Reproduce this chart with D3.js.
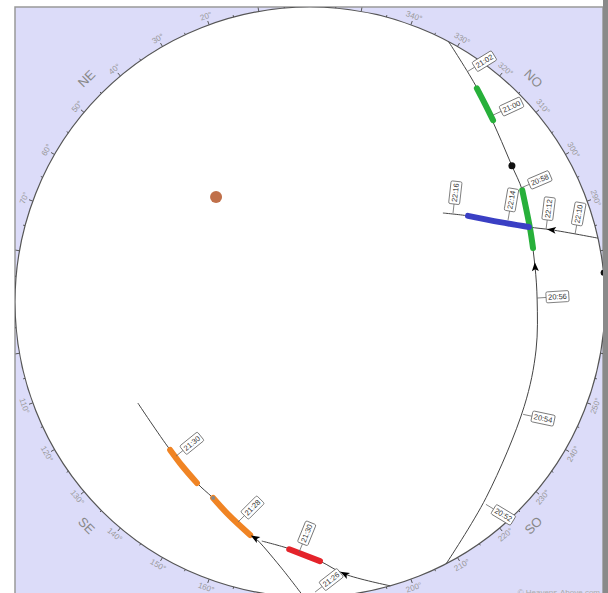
<html>
<head>
    <script src="https://d3js.org/d3.v7.min.js"></script>
    <style>
        body { margin: 0; background: white; }
        text { font-family: "Liberation Sans", Arial, sans-serif; }
    </style>
</head>

<body>
    <svg id="sky"></svg>

    <script>
        var W = 608, H = 593;
        var CX = 310, CY = 302, R = 295;

        // passes, [azimuth, altitude] in degrees, in time order
        var trackGreen = [[207.5,0],[222,9.7],[244,17.3],[258,19.5],[270.5,20.7],[279,20.5],[288.6,19.2],[297.8,16.8],[304,15.7],[312,12.9],[322,7.2],[332,0]];
        var litGreen = [[[283.6,20.0],[288.6,19.2],[297.8,16.8]], [[314.8,11.3],[318.5,9.4],[322,7.3]]];
        var timesGreen = [["20:52",221,8.2],["20:54",242.2,16.5],["20:56",271,20.7],["20:58",298.4,16.8],["21:00",315.6,10.2],["21:02",325.7,5]];

        var trackBlue = [[282.5,0],[286.6,13],[288.9,19.4],[292.8,27.1],[298.6,35.1],[303.8,41.2]];
        var litBlue = [[[288.9,19.4],[292.8,27.1],[298.6,35.1]]];
        var timesBlue = [["22:10",284.4,6.5],["22:12",287.2,14.6],["22:14",292.5,24.6],["22:16",301.9,38.6]];

        var trackOrange = [[178.8,0],[173.5,8.9],[166.9,16.1],[165.6,16.6],[153.7,23.3],[148,24.9],[136.6,27.9],[120.4,29.1]];
        var litOrange = [[[165.6,16.6],[159,20.5],[153.7,23.3]], [[148,24.9],[142,26.6],[136.6,27.9]]];
        var timesOrange = [["21:26",181,1.5],["21:28",161.9,19.4],["21:30",139,27.7]];

        var trackRed = [[195.8,0],[187.3,6.3],[182.2,10.9],[175.4,14.4],[168.6,15.6]];
        var litRed = [[[182.2,10.9],[175.2,14.3]]];
        var timesRed = [["21:30",177.5,13.6]];

        var arrows = [[trackGreen,[278.8,20.5]],[trackBlue,[286.6,13]],[trackOrange,[166.9,16.1]],[trackRed,[187.3,6.3]]];
        var moon = [41.8,47];
        var dots = [[304,15.7,3.5,"#111"],[275.7,0,3,"#111"],[153.7,23.3,2,"#888"]];

        var compass = [["NE",45],["SE",135],["SO",225],["NO",315]];
        var azLabels = d3.range(0, 360, 10);

        var rScale = d3.scaleLinear().domain([90, 0]).range([0, R]);

        function proj(az, alt)
        {
            var r = rScale(alt), a = az*Math.PI/180;
            return [CX - r*Math.sin(a), CY - r*Math.cos(a)];
        }
        function projR(az, r)
        {
            var a = az*Math.PI/180;
            return [CX - r*Math.sin(a), CY - r*Math.cos(a)];
        }

        var svg = d3.select("#sky").attr("width", W).attr("height", H);

        svg.append("clipPath").attr("id", "frame")
            .append("rect").attr("x", 15).attr("y", 7).attr("width", 588).attr("height", 600);

        svg.append("rect").attr("x", 15).attr("y", 7).attr("width", 588).attr("height", 600)
            .attr("fill", "#dcdcf9").attr("stroke", "#999").attr("stroke-width", 1.5);
        svg.append("rect").attr("x", 603).attr("y", 0).attr("width", 5).attr("height", H)
            .attr("fill", "#8a8a8a");

        var g = svg.append("g").attr("clip-path", "url(#frame)");

        g.append("circle").attr("cx", CX).attr("cy", CY).attr("r", R)
            .attr("fill", "white").attr("stroke", "#555").attr("stroke-width", 1.2);

        // azimuth ticks
        g.selectAll(".tick").data(d3.range(0, 360, 5)).enter()
            .append("line")
            .attr("x1", function(d){ return projR(d, R)[0]; })
            .attr("y1", function(d){ return projR(d, R)[1]; })
            .attr("x2", function(d){ return projR(d, R + (d % 10 ? 2 : 4))[0]; })
            .attr("y2", function(d){ return projR(d, R + (d % 10 ? 2 : 4))[1]; })
            .attr("stroke", "#555").attr("stroke-width", 1);

        function tangentRot(az)
        {
            return (az > 90 && az < 270) ? 180 - az : -az;
        }

        g.selectAll(".azl").data(azLabels).enter()
            .append("text")
            .attr("transform", function(d){ var p = projR(d, R + 9); return "translate(" + p[0] + "," + p[1] + ") rotate(" + tangentRot(d) + ")"; })
            .attr("text-anchor", "middle").attr("dominant-baseline", "central")
            .attr("font-size", 8).attr("fill", "#999")
            .text(function(d){ return d + "\u00b0"; });

        g.selectAll(".cmp").data(compass).enter()
            .append("text")
            .attr("transform", function(d){ var p = projR(d[1], R + 21); return "translate(" + p[0] + "," + p[1] + ") rotate(" + tangentRot(d[1]) + ")"; })
            .attr("text-anchor", "middle").attr("dominant-baseline", "central")
            .attr("font-size", 13).attr("fill", "#888")
            .text(function(d){ return d[0]; });

        var line = d3.line().curve(d3.curveCatmullRom.alpha(0.5))
            .x(function(d){ return proj(d[0], d[1])[0]; })
            .y(function(d){ return proj(d[0], d[1])[1]; });

        var passes = [
            {track: trackGreen, lit: litGreen, times: timesGreen, color: "#27b03a"},
            {track: trackBlue, lit: litBlue, times: timesBlue, color: "#3a3fc4"},
            {track: trackOrange, lit: litOrange, times: timesOrange, color: "#f08424"},
            {track: trackRed, lit: litRed, times: timesRed, color: "#e4232a"}
        ];

        // direction of travel near a point
        function direction(track, p)
        {
            var pts = track.map(function(d){ return proj(d[0], d[1]); });
            var best = 0, bd = Infinity;
            for (var i = 0; i < pts.length - 1; i++)
            {
                var mx = (pts[i][0] + pts[i+1][0])/2, my = (pts[i][1] + pts[i+1][1])/2;
                var dd = (mx - p[0])*(mx - p[0]) + (my - p[1])*(my - p[1]);
                if (dd < bd) { bd = dd; best = i; }
            }
            var tx = pts[best+1][0] - pts[best][0], ty = pts[best+1][1] - pts[best][1];
            var l = Math.sqrt(tx*tx + ty*ty);
            return [tx/l, ty/l];
        }

        passes.forEach(function(ps)
        {
            g.append("path").attr("d", line(ps.track))
                .attr("fill", "none").attr("stroke", "#444").attr("stroke-width", 1);
        });

        passes.forEach(function(ps)
        {
            ps.lit.forEach(function(seg)
            {
                g.append("path").attr("d", line(seg))
                    .attr("fill", "none").attr("stroke", ps.color)
                    .attr("stroke-width", 6).attr("stroke-linecap", "round");
            });
        });

        // time labels
        passes.forEach(function(ps)
        {
            ps.times.forEach(function(t)
            {
                var p = proj(t[1], t[2]);
                var dir = direction(ps.track, p);
                var n = [-dir[1], dir[0]];
                var ang = Math.atan2(n[1], n[0])*180/Math.PI;
                var L = 9;
                g.append("line")
                    .attr("x1", p[0]).attr("y1", p[1])
                    .attr("x2", p[0] + n[0]*L).attr("y2", p[1] + n[1]*L)
                    .attr("stroke", "#666").attr("stroke-width", 0.8);
                var lab = g.append("g");
                var txt = lab.append("text")
                    .attr("font-size", 7.5).attr("fill", "#333")
                    .attr("dominant-baseline", "central")
                    .text(t[0]);
                var w = txt.node().getComputedTextLength();
                lab.insert("rect", "text")
                    .attr("x", -2).attr("y", -5.5).attr("width", w + 4).attr("height", 11)
                    .attr("rx", 1.5)
                    .attr("fill", "white").attr("stroke", "#666").attr("stroke-width", 0.8);
                lab.attr("transform", "translate(" + (p[0] + n[0]*(L + 2)) + "," + (p[1] + n[1]*(L + 2)) + ") rotate(" + ang + ")");
            });
        });

        arrows.forEach(function(a)
        {
            var p = proj(a[1][0], a[1][1]);
            var dir = direction(a[0], p);
            var ang = Math.atan2(dir[1], dir[0])*180/Math.PI;
            g.append("path").attr("d", "M5,0 L-4,-3.5 L-2,0 L-4,3.5 Z")
                .attr("transform", "translate(" + p[0] + "," + p[1] + ") rotate(" + ang + ")")
                .attr("fill", "#000");
        });

        g.selectAll(".dot").data(dots).enter()
            .append("circle")
            .attr("cx", function(d){ return proj(d[0], d[1])[0]; })
            .attr("cy", function(d){ return proj(d[0], d[1])[1]; })
            .attr("r", function(d){ return d[2]; })
            .attr("fill", function(d){ return d[3]; });

        g.append("circle")
            .attr("cx", proj(moon[0], moon[1])[0]).attr("cy", proj(moon[0], moon[1])[1])
            .attr("r", 6).attr("fill", "#c0704a");

        svg.append("text").attr("x", 600).attr("y", 595)
            .attr("text-anchor", "end").attr("font-size", 8).attr("fill", "#aaa")
            .text("\u00a9 Heavens-Above.com");
    </script>
</body>
</html>
